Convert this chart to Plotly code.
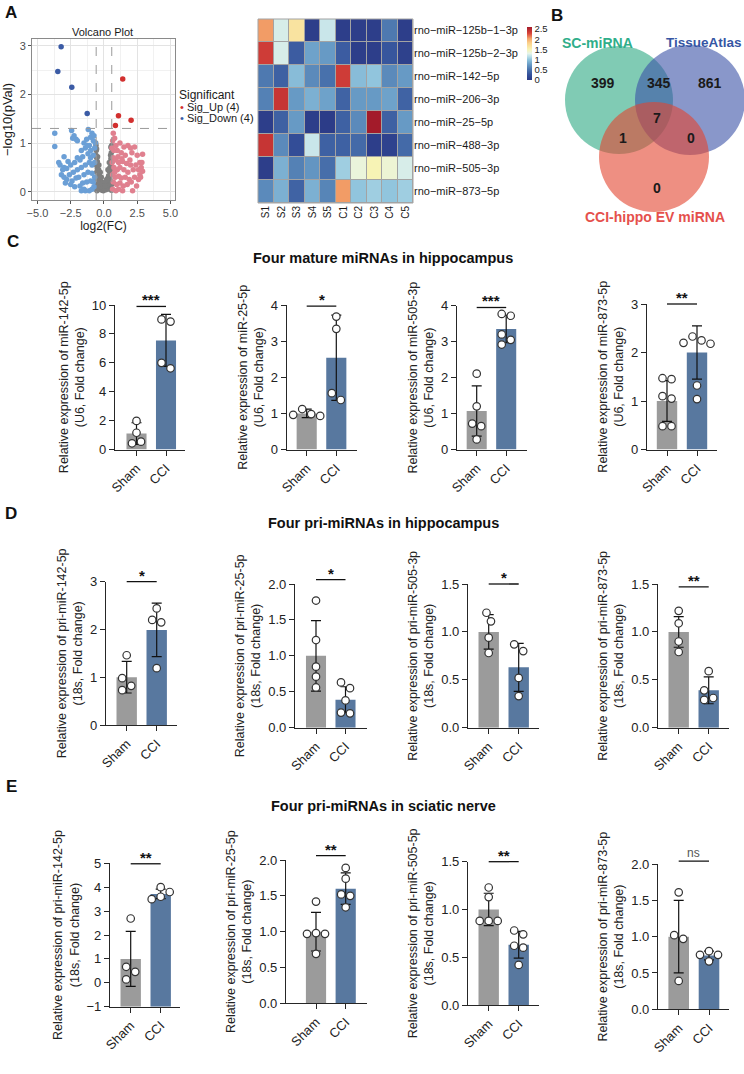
import plotly.graph_objects as go

W, H = 744, 1074
FONT = "Arial, 'Liberation Sans', Helvetica, sans-serif"

# ====================== DATA ======================
# ---- Panel A: volcano plot ----
grey_x = [-0.05, 0.03, -0.1, 0.12, -0.2, 0.18, -0.25, 0.25, -0.3, 0.3, -0.35, 0.35, -0.4, 0.4, -0.45, 0.45,
          -0.5, 0.5, -0.55, 0.52, -0.58, 0.55, -0.6, 0.56, -0.15, 0.15, -0.3, 0.3, -0.4, 0.42, -0.5, 0.5,
          -0.45, 0.45, -0.55, 0.55, -0.35, 0.35, -0.25, 0.22, -0.5, 0.48, -0.58, 0.57, -0.42, 0.38, -0.6, 0.58,
          -0.6, 0.58, -0.52, 0.5, -0.48, 0.5, -0.38, 0.4, -0.28, 0.3, -0.2, 0.2, -0.12, 0.1, -0.05, 0.06,
          -0.6, 0.6, -0.55, 0.58, -0.62, 0.52]
grey_y = [0.02, 0.05, 0.08, 0.1, 0.15, 0.12, 0.22, 0.2, 0.3, 0.28, 0.38, 0.33, 0.45, 0.42, 0.55, 0.5,
          0.62, 0.58, 0.7, 0.68, 0.85, 0.8, 0.95, 0.9, 0.03, 0.04, 0.05, 0.06, 0.1, 0.12, 0.15, 0.2,
          0.3, 0.25, 0.4, 0.35, 0.2, 0.15, 0.1, 0.07, 0.48, 0.45, 0.55, 0.5, 0.28, 0.22, 0.25, 0.15,
          0.05, 0.03, 0.02, 0.04, 0.72, 0.75, 0.55, 0.6, 0.4, 0.45, 0.3, 0.25, 0.18, 0.2, 0.08, 0.12,
          0.75, 0.62, 0.88, 0.95, 1.0, 0.92]
ns_down_x = [-3.7, -3.7, -2.43, -1.18, -2.1, -2.0, -1.5, -1.3, -1.0, -0.9, -0.8, -1.1, -1.4, -1.7, -0.7,
             -3.0, -3.4, -3.3, -3.0, -2.7, -2.8, -2.5, -2.2, -2.0, -1.8, -1.6, -1.2, -1.0, -0.8, -0.7,
             -0.9, -1.1, -1.4, -1.7, -2.0, -2.3, -2.6, -3.2, -3.0, -2.8, -2.4, -2.1, -1.9, -1.5, -1.2,
             -0.9, -0.7, -0.8, -1.0, -1.3, -1.6, -1.8, -2.2, -0.9, -1.1, -1.4, -0.75, -1.0, -1.25, -2.25,
             -2.35, -0.65, -0.75, -1.5, -1.7, -2.5, -3.1, -2.9]
ns_down_y = [1.2, 0.93, 1.26, 1.28, 1.08, 1.05, 1.0, 1.08, 1.12, 1.2, 1.05, 0.95, 0.9, 0.85, 0.9,
             0.72, 0.6, 0.55, 0.5, 0.62, 0.48, 0.55, 0.6, 0.7, 0.65, 0.72, 0.78, 0.7, 0.75, 0.6,
             0.55, 0.6, 0.55, 0.5, 0.45, 0.4, 0.35, 0.35, 0.3, 0.25, 0.22, 0.28, 0.3, 0.35, 0.4,
             0.38, 0.3, 0.2, 0.22, 0.2, 0.18, 0.12, 0.1, 0.05, 0.02, 0.02, 0.1, 0.85, 0.95, 1.15,
             1.1, 1.0, 1.15, 0.05, 0.02, 0.15, 0.45, 0.18]
ns_up_x = [0.7, 0.8, 0.65, 0.9, 1.2, 1.5, 1.8, 2.0, 2.3, 1.0, 1.3, 1.6, 2.1, 2.5, 2.9, 0.7, 0.9, 1.1,
           1.4, 1.7, 2.0, 2.4, 2.7, 2.85, 0.75, 1.0, 1.2, 1.5, 1.8, 2.2, 2.6, 2.8, 2.9, 0.65, 0.85,
           1.1, 1.3, 1.6, 1.9, 2.3, 2.7, 0.7, 0.95, 1.2, 1.45, 1.75, 2.05, 2.45, 0.65, 0.9, 1.1, 1.4,
           2.15, 0.75, 1.05, 1.35, 0.62, 2.75, 2.6, 1.95, 0.8, 0.6]
ns_up_y = [1.2, 1.1, 1.05, 0.95, 1.0, 0.92, 0.95, 0.9, 0.92, 0.85, 0.8, 0.75, 0.8, 0.75, 0.77, 0.7,
           0.65, 0.6, 0.62, 0.58, 0.55, 0.55, 0.6, 0.6, 0.5, 0.45, 0.5, 0.45, 0.4, 0.45, 0.45, 0.5,
           0.42, 0.35, 0.3, 0.32, 0.28, 0.3, 0.25, 0.3, 0.35, 0.2, 0.15, 0.18, 0.12, 0.15, 0.2, 0.12,
           0.05, 0.02, 0.05, 0.02, 0.02, 0.85, 0.72, 0.68, 0.6, 0.3, 0.25, 0.65, 0.4, 0.9]
sig_down_x = [-3.22, -3.47, -2.42, -1.26]
sig_down_y = [2.98, 2.47, 2.15, 1.61]
sig_up_x = [1.41, 1.09, 2.04, 0.86]
sig_up_y = [2.32, 1.56, 1.47, 1.36]
fc_threshold = 0.585
p_threshold = 1.301
legend_labels = ["Sig_Up (4)", "Sig_Down (4)"]

# ---- Panel A: heatmap ----
heat_rows = ["rno−miR−125b−1−3p", "rno−miR−125b−2−3p", "rno−miR−142−5p", "rno−miR−206−3p",
             "rno−miR−25−5p", "rno−miR−488−3p", "rno−miR−505−3p", "rno−miR−873−5p"]
heat_cols = ["S1", "S2", "S3", "S4", "S5", "C1", "C2", "C3", "C4", "C5"]
heat_vals = [
    [2.05, 1.25, 1.65, 0.05, 1.20, 0.05, 0.05, 0.05, 0.55, 0.05],
    [2.35, 1.25, 0.35, 0.80, 0.75, 0.35, 0.05, 0.05, 0.30, 0.08],
    [0.55, 0.38, 0.95, 0.65, 0.50, 2.35, 0.95, 1.00, 0.65, 0.75],
    [0.60, 2.40, 0.75, 0.88, 0.80, 0.40, 0.75, 0.75, 0.80, 0.40],
    [0.05, 0.38, 0.75, 0.05, 0.02, 0.38, 0.65, 2.60, 0.38, 0.75],
    [2.40, 0.65, 0.22, 1.20, 0.38, 0.38, 0.45, 0.05, 0.10, 0.45],
    [0.05, 0.88, 0.60, 0.72, 0.48, 1.05, 1.35, 1.50, 1.38, 1.25],
    [0.65, 0.88, 0.40, 0.88, 0.62, 2.05, 1.00, 1.05, 1.00, 1.05],
]
heat_ticks = [0, 0.5, 1, 1.5, 2, 2.5]

# ---- Panel B: Venn ----
venn_sets = ["SC-miRNA", "TissueAtlas", "CCI-hippo EV miRNA"]
venn_regions = ["SC only", "SC&TA", "TA only", "all", "SC&CCI", "TA&CCI", "CCI only"]
venn_counts = [399, 345, 861, 7, 1, 0, 0]

# ---- Panels C-E: bar charts ----
groups = ["Sham", "CCI"]
row_titles = ["Four mature miRNAs in hippocampus", "Four pri-miRNAs in hippocampus",
              "Four pri-miRNAs in sciatic nerve"]
ytitles = [
    "Relative expression of miR-142-5p<br>(U6, Fold change)",
    "Relative expression of miR-25-5p<br>(U6, Fold change)",
    "Relative expression of miR-505-3p<br>(U6, Fold change)",
    "Relative expression of miR-873-5p<br>(U6, Fold change)",
    "Relative expression of pri-miR-142-5p<br>(18s, Fold change)",
    "Relative expression of pri-miR-25-5p<br>(18s, Fold change)",
    "Relative expression of pri-miR-505-3p<br>(18s, Fold change)",
    "Relative expression of pri-miR-873-5p<br>(18s, Fold change)",
    "Relative expression of pri-miR-142-5p<br>(18s, Fold change)",
    "Relative expression of pri-miR-25-5p<br>(18s, Fold change)",
    "Relative expression of pri-miR-505-5p<br>(18s, Fold change)",
    "Relative expression of pri-miR-873-5p<br>(18s, Fold change)",
]
bar_means = [[1.1, 7.55], [1.0, 2.54], [1.07, 3.35], [1.0, 2.0],
             [1.0, 1.99], [1.0, 0.39], [1.0, 0.63], [1.0, 0.39],
             [1.0, 3.72], [1.0, 1.6], [1.0, 0.63], [1.0, 0.74]]
bar_sds = [[0.75, 1.8], [0.12, 1.18], [0.7, 0.38], [0.42, 0.55],
           [0.33, 0.56], [0.49, 0.18], [0.18, 0.25], [0.16, 0.14],
           [1.15, 0.2], [0.27, 0.22], [0.17, 0.14], [0.5, 0.06]]
pts_sham = [[1.98, 1.16, 0.43, 0.54], [1.12, 0.98, 0.96, 0.93], [2.11, 1.2, 0.72, 0.65, 0.28],
            [1.45, 1.47, 1.1, 1.05, 0.48, 0.48],
            [1.46, 0.98, 0.82, 0.73], [1.77, 1.22, 0.85, 0.71, 0.56], [1.2, 1.11, 0.94, 0.78],
            [1.22, 1.09, 0.9, 0.79],
            [2.69, 0.67, 0.46, 0.14], [1.42, 0.98, 0.97, 0.97, 0.69], [1.23, 1.13, 0.88, 0.88, 0.88],
            [1.61, 1.02, 0.97, 0.39]]
pts_cci = [[8.85, 9.0, 5.62, 6.0], [3.68, 3.34, 1.56, 1.37], [3.72, 3.77, 3.2, 2.92, 3.05],
           [2.25, 2.33, 2.2, 2.18, 1.32, 1.04],
           [2.44, 2.2, 2.15, 1.19], [0.63, 0.55, 0.38, 0.21, 0.2], [0.8, 0.87, 0.52, 0.33],
           [0.59, 0.39, 0.29, 0.31],
           [3.8, 4.0, 3.5, 3.6], [1.89, 1.74, 1.52, 1.5, 1.34], [0.78, 0.74, 0.62, 0.6, 0.42],
           [0.8, 0.66, 0.75, 0.75]]
sig_labels = ["***", "*", "***", "**", "*", "*", "*", "**", "**", "**", "**", "ns"]
sig_heights = [9.9, 3.97, 3.95, 3.0, 3.0, 2.06, 1.5, 1.47, 4.98, 2.06, 1.5, 2.04]
y_axes = [(0, 10, 2, "d"), (0, 4, 1, "d"), (0, 4, 1, "d"), (0, 3, 1, "d"),
          (0, 3, 1, "d"), (0, 2, 0.5, ".1f"), (0, 1.5, 0.5, ".1f"), (0, 1.5, 0.5, ".1f"),
          (-1, 5, 1, "d"), (0, 2, 0.5, ".1f"), (0, 1.5, 0.5, ".1f"), (0, 2, 0.5, ".1f")]

# ====================== LAYOUT (pixel geometry) ======================
# (y-axis x, Sham centre, CCI centre, x-axis end, top tick y, bottom y)
panel_px = [(115, 136.5, 166, 185, 305, 449.5), (286.7, 306.7, 336.3, 356.7, 305, 449.5),
            (457, 476.7, 506.2, 527, 305.7, 449.5), (647, 667, 697, 717, 304, 449.5),
            (106, 126.7, 156.7, 176.7, 581.7, 725), (295, 316, 345.5, 366.7, 584, 727.7),
            (468, 488.7, 518.7, 538.7, 584, 727.7), (658, 678.7, 708.7, 728.7, 584, 727.7),
            (110, 130.7, 160.7, 180, 863.3, 1006.7), (286, 316, 345.7, 366.7, 860, 1003.3),
            (468, 488.7, 518.7, 538.7, 861.7, 1005), (658, 678.7, 709, 729.3, 864, 1009.3)]

SHAM_COL, CCI_COL = "#9b9b9b", "#58789f"
AX_COL = "#262626"


def fx(px):
    return px / W


def fy(py):
    return 1 - py / H


def swarm(vals, ppu_y, ppu_x, d=9.0):
    n = len(vals)
    order = sorted(range(n), key=lambda i: -vals[i])
    cands = [0.0]
    for k in range(1, 10):
        cands += [k * d / 2, -k * d / 2]
    placed, off = [], [0.0] * n
    for i in order:
        y = vals[i] * ppu_y
        for c in cands:
            if all((c - o) ** 2 + (y - yy) ** 2 >= d * d - 1e-6 for o, yy in placed):
                break
        placed.append((c, y))
        off[i] = c
    ys = [v * ppu_y for v in vals]
    idx = sorted(range(n), key=lambda i: ys[i])
    clusters, cur = [], [idx[0]]
    for a, b in zip(idx, idx[1:]):
        if ys[b] - ys[a] < d:
            cur.append(b)
        else:
            clusters.append(cur)
            cur = [b]
    clusters.append(cur)
    for cl in clusters:
        if len(cl) > 1:
            sh = (max(off[i] for i in cl) + min(off[i] for i in cl)) / 2
            for i in cl:
                off[i] -= sh
    return [o / ppu_x for o in off]


def paper_text(text, xpx, ypx, size, color="#1a1a1a", xanchor="center"):
    return dict(text=text, x=fx(xpx), y=fy(ypx), xref="paper", yref="paper", xanchor=xanchor,
                yanchor="middle", showarrow=False, font=dict(size=size, color=color))


fig = go.Figure()
layout = dict(template="none", width=W, height=H, margin=dict(l=0, r=0, t=0, b=0, pad=0),
              paper_bgcolor="white", plot_bgcolor="white", showlegend=False,
              font=dict(family=FONT, color="#1a1a1a"))
shapes, annotations = [], []

# ---------------- Volcano ----------------
vk = dict(xaxis="x", yaxis="y", mode="markers", hoverinfo="skip", showlegend=False)
fig.add_trace(go.Scatter(x=grey_x, y=grey_y, marker=dict(size=5.5, color="#7f7f7f"), **vk))
fig.add_trace(go.Scatter(x=ns_down_x, y=ns_down_y, marker=dict(size=5.5, color="#6b9fd6"), **vk))
fig.add_trace(go.Scatter(x=ns_up_x, y=ns_up_y, marker=dict(size=5.5, color="#e0808f"), **vk))
fig.add_trace(go.Scatter(x=sig_down_x, y=sig_down_y, marker=dict(size=5.5, color="#3b5ba5"), **vk))
fig.add_trace(go.Scatter(x=sig_up_x, y=sig_up_y, marker=dict(size=5.5, color="#d2302f"), **vk))
vax = dict(showgrid=True, gridcolor="#e3e3e3", gridwidth=1, showline=True, mirror=True,
           linecolor="#8a8a8a", linewidth=1, ticks="outside", ticklen=3, tickcolor="#555",
           tickfont=dict(size=11, color="#4d4d4d"), zeroline=False, automargin=False)
layout["xaxis"] = dict(domain=[fx(32), fx(175)], range=[-5.41, 5.34], anchor="y", tick0=0, dtick=2.5,
                       tickformat=".1f", minor=dict(dtick=1.25, showgrid=True, gridcolor="#f1f1f1"),
                       title=dict(text="log2(FC)", font=dict(size=12), standoff=2), **vax)
layout["yaxis"] = dict(domain=[fy(200), fy(39)], range=[-0.17, 3.14], anchor="x", tick0=0, dtick=1,
                       minor=dict(dtick=0.5, showgrid=True, gridcolor="#f1f1f1"),
                       title=dict(text="−log10(pVal)", font=dict(size=13), standoff=4), **vax)
for xv in (-fc_threshold, fc_threshold):
    shapes.append(dict(type="line", xref="x", yref="y domain", x0=xv, x1=xv, y0=0, y1=1,
                       line=dict(color="#9a9a9a", width=1, dash="dash")))
shapes.append(dict(type="line", xref="x domain", yref="y", x0=0, x1=1, y0=p_threshold, y1=p_threshold,
                   line=dict(color="#9a9a9a", width=1, dash="dash")))
annotations.append(paper_text("Volcano Plot", 103, 32, 11))
annotations.append(paper_text("Significant", 177, 95, 12, xanchor="left"))
for lab, col, ypx in zip(legend_labels, ["#d2302f", "#3b5ba5"], [107.5, 118.5]):
    annotations.append(paper_text(f"<span style='color:{col}'>•</span> {lab}", 178, ypx, 11,
                                  xanchor="left"))

# ---------------- Heatmap ----------------
cscale = [[0, "#2b3a86"], [0.1, "#34509a"], [0.2, "#4a74ad"], [0.3, "#6b9fc8"], [0.38, "#8ec3dc"],
          [0.45, "#c0e2ea"], [0.5, "#e6f4e8"], [0.58, "#f8f3b3"], [0.7, "#fbd08a"], [0.78, "#f4a46a"],
          [0.88, "#d9443a"], [1.0, "#a31b2a"]]
fig.add_trace(go.Heatmap(z=heat_vals, x=heat_cols, y=heat_rows, xaxis="x2", yaxis="y2",
                         colorscale=cscale, zmin=0, zmax=2.6, xgap=1, ygap=1, hoverinfo="skip",
                         colorbar=dict(x=fx(527), xanchor="left", y=fy(53.5), yanchor="middle",
                                       len=53, lenmode="pixels", thickness=5, outlinewidth=0,
                                       xpad=0, ypad=0, tickvals=heat_ticks,
                                       ticktext=[f"{t:g}" for t in heat_ticks], ticks="",
                                       tickfont=dict(size=9.5))))
layout["xaxis2"] = dict(domain=[fx(258), fx(413)], anchor="y2", tickangle=-90, ticks="",
                        tickfont=dict(size=10), showgrid=False, zeroline=False, showline=False,
                        automargin=False)
layout["yaxis2"] = dict(domain=[fy(203), fy(19)], anchor="x2", side="right", autorange="reversed",
                        ticks="", tickfont=dict(size=11), showgrid=False, zeroline=False,
                        showline=False, automargin=False)
shapes.append(dict(type="rect", xref="x2 domain", yref="y2 domain", x0=0, x1=1, y0=0, y1=1,
                   layer="below", fillcolor="#a3a3a3", line=dict(width=0)))
shapes.append(dict(type="rect", xref="x2 domain", yref="y2 domain", x0=0, x1=1, y0=0, y1=1,
                   fillcolor="rgba(0,0,0,0)", line=dict(color="#a3a3a3", width=1)))

# ---------------- Venn ----------------
venn_circles = [(619, 100, 54, "#2ba882"), (690, 100, 55, "#3a52a6"), (654, 157, 55, "#e2452e")]
for cx, cy, r, col in venn_circles:
    shapes.append(dict(type="circle", xref="paper", yref="paper", x0=fx(cx - r), x1=fx(cx + r),
                       y0=fy(cy + r), y1=fy(cy - r), fillcolor=col, opacity=0.6, line=dict(width=0)))
venn_label_pos = [(597, 43, 14, "#2fae8a"), (704, 43, 13.5, "#3656a4"), (655, 217, 14, "#e5504c")]
for name, (lx, ly, fs, col) in zip(venn_sets, venn_label_pos):
    annotations.append(paper_text(f"<b>{name}</b>", lx, ly, fs, col))
venn_count_pos = [(603, 83), (659, 83), (710, 83), (657, 118), (623, 138), (691, 138), (657, 188)]
for cnt, (lx, ly) in zip(venn_counts, venn_count_pos):
    annotations.append(paper_text(f"<b>{cnt}</b>", lx, ly, 14))

# ---------------- Bar charts ----------------
for i in range(12):
    n = i + 3
    xa, ya = f"x{n}", f"y{n}"
    axis_px, sham_px, cci_px, right_px, top_px, bot_px = panel_px[i]
    ymin, ymax, dt, fmt = y_axes[i]
    unit = cci_px - sham_px
    xr = [-(sham_px - axis_px) / unit, 1 + (right_px - cci_px) / unit]
    ppu_y = (bot_px - top_px) / (ymax - ymin)
    means, sds = bar_means[i], bar_sds[i]

    fig.add_trace(go.Bar(x=[0, 1], y=[m - ymin for m in means], base=ymin, width=0.68,
                         marker=dict(color=[SHAM_COL, CCI_COL], line=dict(width=0)),
                         xaxis=xa, yaxis=ya, hoverinfo="skip", showlegend=False))
    fig.add_trace(go.Scatter(x=[0, 1], y=means, mode="markers",
                             marker=dict(size=1, color="rgba(0,0,0,0)"),
                             error_y=dict(type="data", array=sds, visible=True, color="#111",
                                          thickness=1.2, width=5),
                             xaxis=xa, yaxis=ya, hoverinfo="skip", showlegend=False))
    for g, vals in enumerate([pts_sham[i], pts_cci[i]]):
        offs = swarm([v - ymin for v in vals], ppu_y, unit)
        fig.add_trace(go.Scatter(x=[g + o for o in offs], y=vals, mode="markers",
                                 marker=dict(size=7.5, color="white",
                                             line=dict(color="#333", width=1.2)),
                                 xaxis=xa, yaxis=ya, hoverinfo="skip", showlegend=False,
                                 cliponaxis=False))
    common = dict(showline=True, linecolor=AX_COL, linewidth=1.3, ticks="outside", ticklen=5,
                  tickwidth=1.3, tickcolor=AX_COL, showgrid=False, zeroline=False,
                  tickfont=dict(size=13, color="#222"), automargin=False)
    layout[f"xaxis{n}"] = dict(domain=[fx(axis_px), fx(right_px)], range=xr, anchor=ya,
                               tickvals=[0, 1], ticktext=groups, tickangle=-45, **common)
    layout[f"yaxis{n}"] = dict(domain=[fy(bot_px), fy(top_px)], range=[ymin, ymax], anchor=xa,
                               tick0=ymin, dtick=dt, tickformat=fmt,
                               title=dict(text=ytitles[i], font=dict(size=12.5, color="#222"),
                                          standoff=4), **common)
    yfrac = (sig_heights[i] - ymin) / (ymax - ymin)
    shapes.append(dict(type="line", xref=xa, yref=f"{ya} domain", x0=0, x1=1, y0=yfrac, y1=yfrac,
                       line=dict(color="#111", width=1.3)))
    is_ns = sig_labels[i] == "ns"
    annotations.append(dict(text=sig_labels[i] if is_ns else f"<b>{sig_labels[i]}</b>", x=0.5,
                            xref=xa, y=yfrac, yref=f"{ya} domain", xanchor="center",
                            yanchor="bottom", yshift=-1 if is_ns else -4, showarrow=False,
                            font=dict(size=12 if is_ns else 15, color="#555" if is_ns else "#111")))

# ---------------- Titles & panel letters ----------------
for t, ypx in zip(row_titles, [258, 523, 805.5]):
    annotations.append(paper_text(f"<b>{t}</b>", 383, ypx, 14.5, "#111"))
for letter, (lx, ly) in zip("ABCDE", [(11, 12.5), (557, 16), (13, 241), (11, 513), (11, 786)]):
    annotations.append(paper_text(f"<b>{letter}</b>", lx, ly, 17, "#111"))

layout["shapes"] = shapes
layout["annotations"] = annotations
fig.update_layout(**layout)
fig.write_html("out.html", config={"displayModeBar": False},
               post_script="document.body.style.margin='0px';document.body.style.overflow='hidden';")
